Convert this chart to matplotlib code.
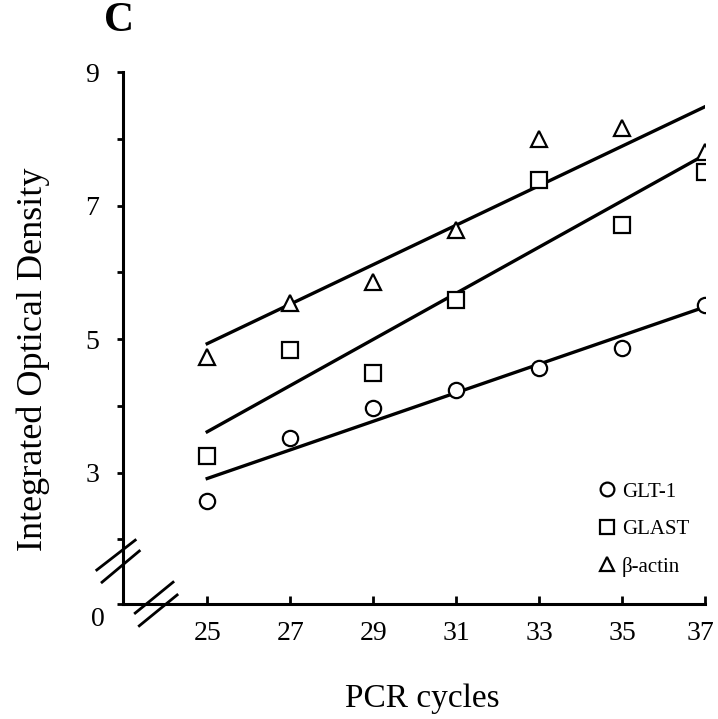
import matplotlib
matplotlib.use("Agg")
import matplotlib.pyplot as plt
from matplotlib.lines import Line2D
from matplotlib.transforms import ScaledTranslation

plt.rcParams['font.family'] = ['Liberation Serif', 'DejaVu Serif']

cycles = [25, 27, 29, 31, 33, 35, 37]
glt1 = [2.58, 3.52, 3.97, 4.24, 4.57, 4.87, 5.51]
glast = [3.24, 4.84, 4.49, 5.59, 7.38, 6.71, 7.50]
bactin = [4.73, 5.54, 5.86, 6.63, 8.00, 8.16, 7.80]

# regression lines as drawn (endpoints at 25 and 37 cycles)
fit_x = [25, 37]
glt1_fit = [2.91, 5.48]
glast_fit = [3.61, 7.76]
bactin_fit = [4.93, 8.48]

y_ticks = [3, 5, 7, 9]
y_minor = [2, 4, 6, 8]
y_zero_pos = 1.03   # where the "0" sits below the axis break

fig = plt.figure(figsize=(7.18, 7.19), dpi=100)
ax = fig.add_axes([123/718, 1 - 604/719, 582/718, 532/719])

mk = dict(linestyle='none', markerfacecolor='white', markeredgecolor='black',
          markeredgewidth=1.6, markersize=11)
ax.plot(fit_x, glt1_fit, color='black', lw=2.4)
ax.plot(fit_x, glast_fit, color='black', lw=2.4)
ax.plot(fit_x, bactin_fit, color='black', lw=2.4)
ax.plot(cycles, glt1, marker='o', label='GLT-1', **mk)
ax.plot(cycles, glast, marker='s', label='GLAST', **mk)
ax.plot(cycles, bactin, marker='^', label='β-actin', **mk)

ax.set_xlim(22.97, 37)
ax.set_ylim(y_zero_pos, 9)
ax.set_xticks(cycles)
ax.set_xticklabels([str(c) for c in cycles])
ax.set_yticks(y_ticks + [y_zero_pos])
ax.set_yticklabels([str(t) for t in y_ticks] + [''])
ax.set_yticks(y_minor, minor=True)

for s in ['top', 'right']:
    ax.spines[s].set_visible(False)
for s in ['left', 'bottom']:
    ax.spines[s].set_linewidth(2.2)

ax.tick_params(axis='x', direction='in', length=6, width=2, labelsize=20, pad=12)
ax.tick_params(axis='y', which='both', direction='out', length=4, width=2,
               labelsize=20, pad=13)
# last x label sits a touch left of its tick in the original
lab37 = ax.get_xticklabels()[-1]
lab37.set_transform(lab37.get_transform() + ScaledTranslation(-5/100, 0, fig.dpi_scale_trans))
ax.annotate('0', xy=(0, 0), xycoords='axes fraction', xytext=(-25, -16),
            textcoords='offset pixels', ha='center', va='center', fontsize=20)

ax.set_xlabel('PCR cycles', fontsize=24)
ax.xaxis.set_label_coords(0.515, -0.15)
ax.set_ylabel('Integrated Optical Density', fontsize=26)
ax.yaxis.set_label_coords(-0.125, 0.46)

# axis break marks
for (x0, y0, x1, y1) in [(-0.045, 0.064, 0.021, 0.12), (-0.036, 0.041, 0.028, 0.0996),
                         (0.021, -0.017, 0.086, 0.041), (0.028, -0.041, 0.093, 0.017)]:
    ax.add_line(Line2D([x0, x1], [y0, y1], transform=ax.transAxes, color='black',
                       lw=2, clip_on=False))

leg = ax.legend(loc='upper left', bbox_to_anchor=(0.8, 0.245), frameon=False,
                fontsize=15, handletextpad=0.2, labelspacing=0.85, markerscale=0.9,
                handlelength=1.0, borderaxespad=0)

fig.text(119/718, 1 - 21/719, 'C', fontsize=30, fontweight='bold', ha='center', va='center')

fig.savefig('out.png', dpi=100)
